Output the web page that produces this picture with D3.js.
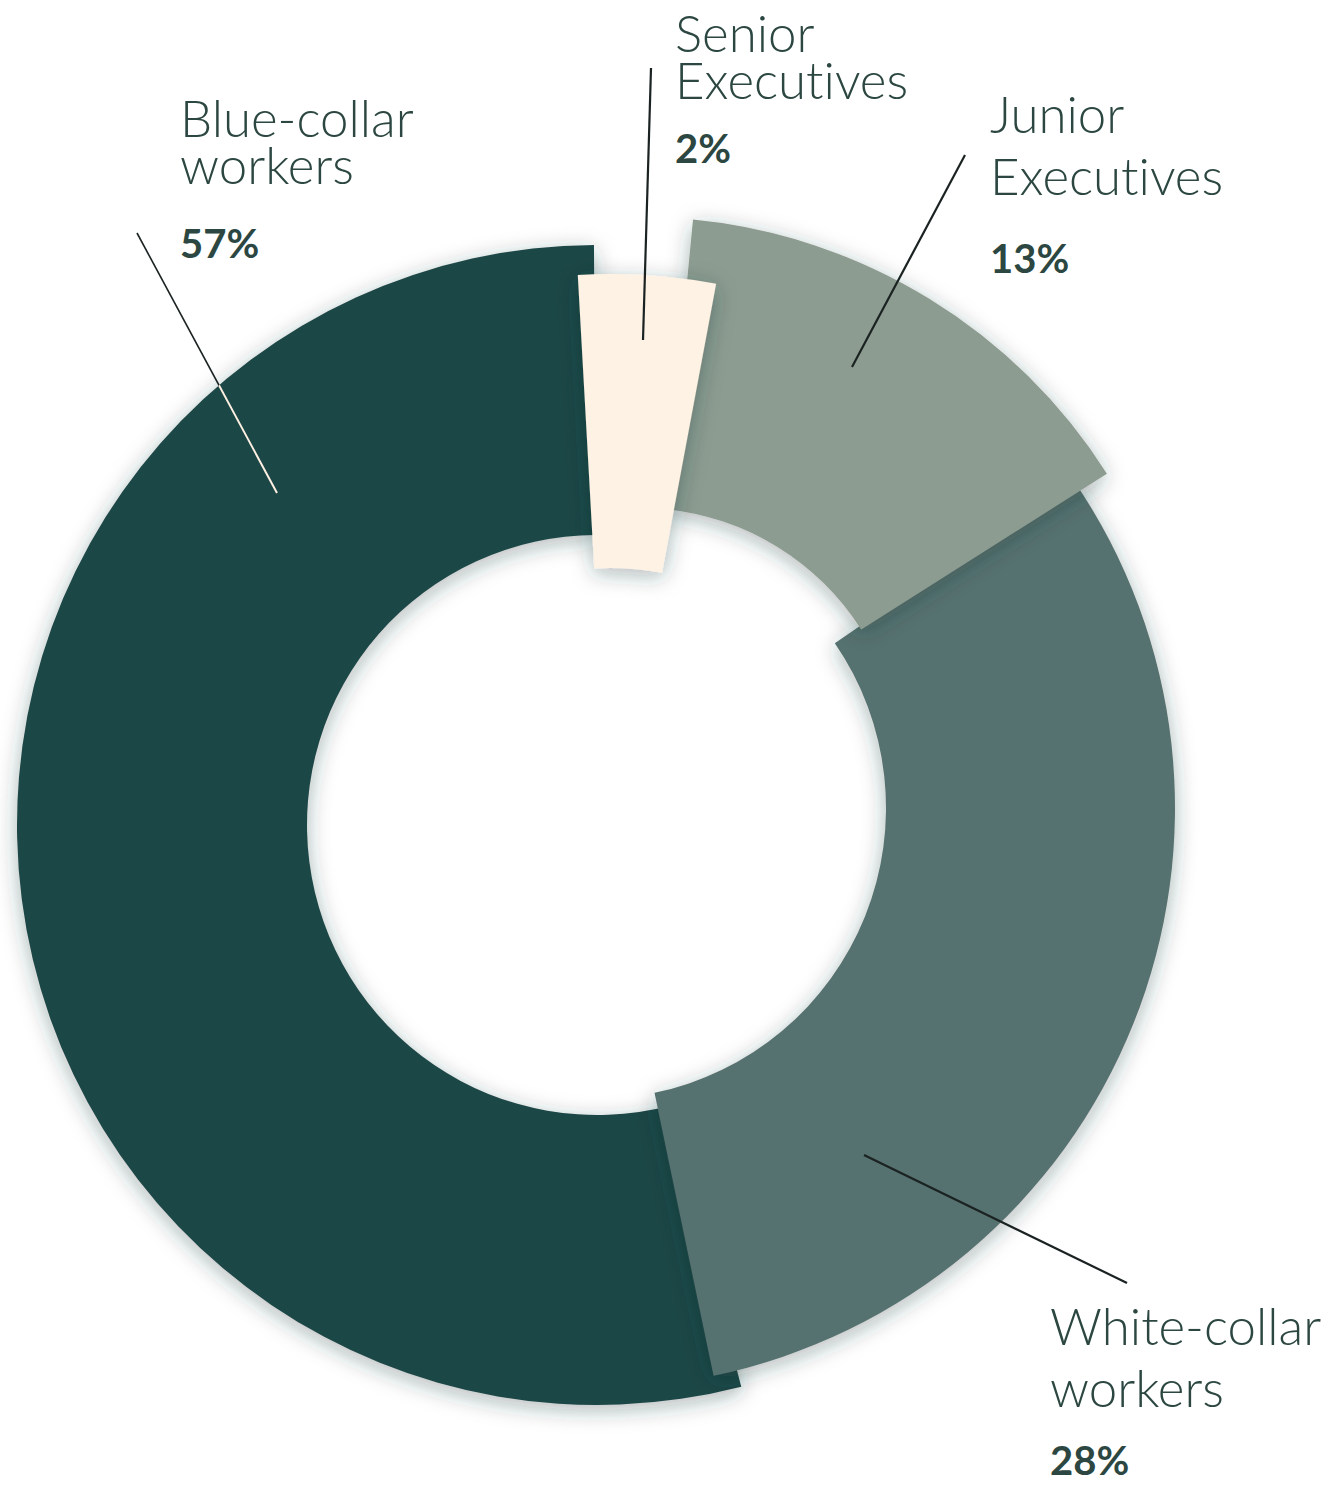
<!DOCTYPE html>
<html>
<head>
<meta charset="utf-8">
<script src="https://d3js.org/d3.v7.min.js"></script>
<style>
  body { margin: 0; background: #fff; }
  text { font-variant-ligatures: none; font-feature-settings: "liga" 0; }
  .lbl { font-family: Lato, "Open Sans", sans-serif; font-weight: 300; font-size: 51px; fill: #2c4741; }
  .pct { font-family: Lato, "Open Sans", sans-serif; font-weight: 700; font-size: 40px; fill: #2c4741; }
</style>
</head>
<body>
<div id="chart"></div>
<script>
    // data
    const categories = ["Blue-collar workers", "White-collar workers", "Junior Executives", "Senior Executives"];
    const shares = [57, 28, 13, 2];
    // angles of each piece as it is drawn (degrees, clockwise from 12 o'clock)
    const startAngles = [165.6, 55.5, 5.5, -3.2];
    const endAngles = [359.7, 168.2, 57.6, 10.6];

    const colors = ["#1f4747", "#577270", "#8c9c91", "#fdf2e4"];

    // every piece is cut separately, with its own centre
    const pieces = [
        { cx: 597, cy: 825, r0: 290, r1: 580 },
        { cx: 595, cy: 808, r0: 291, r1: 580 },
        { cx: 640, cy: 770, r0: 262, r1: 553 },
        { cx: 610, cy: 851, r0: 283, r1: 577 }
    ];

    // label placement
    const labels = [
        { x: 180, y: [137, 184], py: 258, line: [[137, 233], [277, 493]] },
        { x: 1050, y: [1345, 1407], py: 1475, line: [[864, 1155], [1127, 1283]] },
        { x: 990, y: [133, 195], py: 273, line: [[965, 155], [852, 367]] },
        { x: 675, y: [52, 99], py: 163, line: [[651, 68], [643, 340]] }
    ];

    const width = 1337, height = 1485;

    const svg = d3.select("#chart")
        .append("svg")
        .attr("width", width)
        .attr("height", height);

    const defs = svg.append("defs");
    defs.append("filter")
        .attr("id", "shadow")
        .attr("x", "-20%").attr("y", "-20%")
        .attr("width", "140%").attr("height", "140%")
        .append("feDropShadow")
        .attr("dx", 0).attr("dy", 5)
        .attr("stdDeviation", 11)
        .attr("flood-color", "#1c3333")
        .attr("flood-opacity", 0.35);

    const deg = d3.scaleLinear().domain([0, 360]).range([0, 2 * Math.PI]);

    const arc = d3.arc()
        .innerRadius(d => d.r0)
        .outerRadius(d => d.r1)
        .startAngle(d => deg(d.a0))
        .endAngle(d => deg(d.a1));

    const slices = categories.map((c, i) => ({
        name: c,
        value: shares[i],
        a0: startAngles[i],
        a1: endAngles[i],
        ...pieces[i]
    }));

    // clip for the part of the blue-collar leader that lies on the slice
    defs.append("clipPath")
        .attr("id", "blueClip")
        .append("path")
        .attr("transform", `translate(${slices[0].cx},${slices[0].cy})`)
        .attr("d", arc(slices[0]));

    // slices, bottom one first
    svg.selectAll("path.slice")
        .data(slices)
        .enter()
        .append("path")
        .attr("class", "slice")
        .attr("transform", d => `translate(${d.cx},${d.cy})`)
        .attr("d", arc)
        .attr("fill", (d, i) => colors[i])
        .attr("filter", "url(#shadow)");

    // leader lines
    labels.forEach((l, i) => {
        svg.append("line")
            .attr("x1", l.line[0][0]).attr("y1", l.line[0][1])
            .attr("x2", l.line[1][0]).attr("y2", l.line[1][1])
            .attr("stroke", "#1b2222")
            .attr("stroke-width", i == 0 ? 1.6 : 2.2);
    });
    svg.append("line")
        .attr("x1", labels[0].line[0][0]).attr("y1", labels[0].line[0][1])
        .attr("x2", labels[0].line[1][0]).attr("y2", labels[0].line[1][1])
        .attr("stroke", "#fdf2e4")
        .attr("stroke-width", 2)
        .attr("clip-path", "url(#blueClip)");

    // labels
    labels.forEach((l, i) => {
        const words = categories[i].split(" ");
        const t = svg.append("text").attr("class", "lbl");
        words.forEach((w, j) => {
            t.append("tspan").attr("x", l.x).attr("y", l.y[j]).text(w);
        });
        svg.append("text")
            .attr("class", "pct")
            .attr("x", l.x)
            .attr("y", l.py)
            .text(shares[i] + "%");
    });
</script>
</body>
</html>
